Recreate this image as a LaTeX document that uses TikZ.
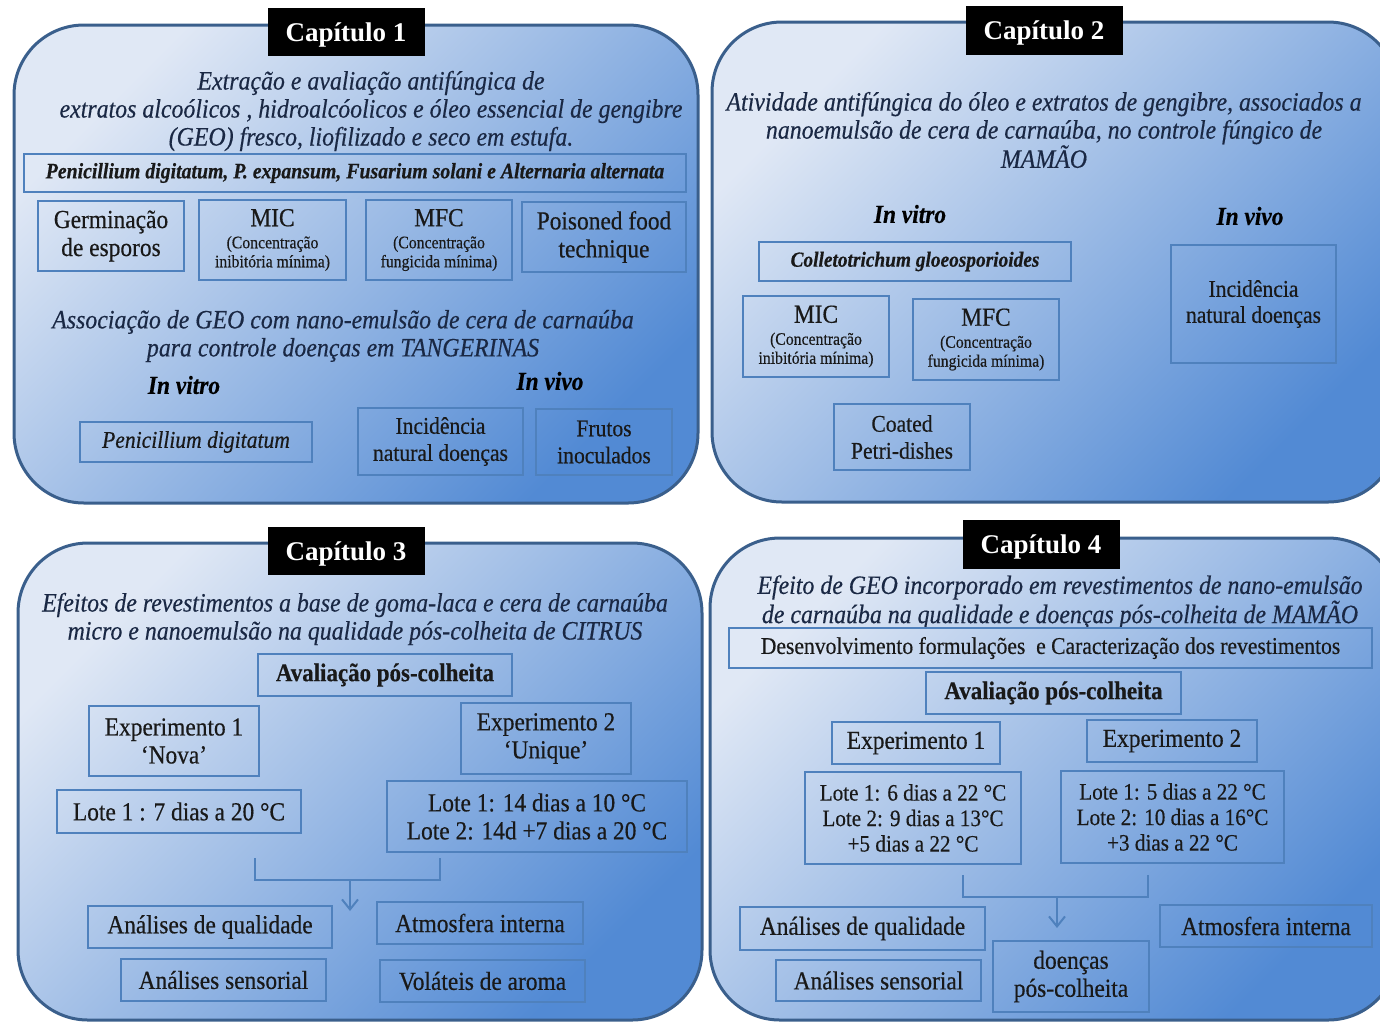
\documentclass[tikz,border=0pt]{standalone}
\usepackage{fontspec}
\setmainfont{Liberation Serif}[FakeStretch=0.9, FakeBold=0.4]
\newfontfamily\capfont{Liberation Serif}
\usetikzlibrary{arrows.meta}
\definecolor{panelline}{RGB}{58,95,140}
\definecolor{paneltop}{RGB}{224,232,245}
\definecolor{panelbot}{RGB}{82,138,212}
\definecolor{boxline}{RGB}{79,129,189}
\definecolor{headtext}{RGB}{26,40,68}
\newcommand\fsz[2]{\fontsize{#1}{#2}\selectfont}
\newcommand\smallfs{\fsz{17.5}{19}}

\begin{document}
\begin{tikzpicture}[x=1pt, y=-1pt,
    panel/.style={draw=panelline, line width=3, rounded corners=70, top color=paneltop, bottom color=panelbot, shading angle=45},
    capbox/.style={fill=black, text=white, font=\capfont\fsz{27}{30}\bfseries, minimum width=157, minimum height=48, inner sep=0, text depth=0pt},
    headtxt/.style={text=headtext, font=\fsz{26.5}{28}\itshape, align=center},
    bx/.style={draw=boxline, line width=1.5, align=center, inner sep=0, text=black!90, font=\fsz{26}{28}},
    vivolabel/.style={font=\fsz{26}{28}\bfseries\itshape, text=black},
    link/.style={draw=boxline, line width=2}]
    \useasboundingbox (0,0) rectangle (1380,1021);
    \clip (0,0) rectangle (1380,1021);

    \path [panel] (14,25) rectangle (698,503);
    \path [panel] (712,22) rectangle (1398,502);
    \path [panel] (18,543) rectangle (702,1020);
    \path [panel] (710,538) rectangle (1398,1020);

    % Capitulo 1
    \node [capbox] (cap1) at (346,32) {Capítulo 1};
    \node [headtxt] (head1) at (371,111) {Extração e avaliação antifúngica de\\extratos alcoólicos , hidroalcóolicos e óleo essencial de gengibre\\(GEO) fresco, liofilizado e seco em estufa.};
    \node [bx, minimum width=662, minimum height=38, font=\fsz{22}{24}\bfseries\itshape] (fungi1) at (355,173) {Penicillium digitatum, P. expansum, Fusarium solani e Alternaria alternata};
    \node [bx, minimum width=146, minimum height=70] (germ) at (111,236) {Germinação\\de esporos};
    \node [bx, minimum width=147, minimum height=80] (mic1) at (272.5,240) {MIC\\[-6pt]\smallfs(Concentração\\[-9pt]\smallfs inibitória mínima)};
    \node [bx, minimum width=146, minimum height=80] (mfc1) at (439,240) {MFC\\[-6pt]\smallfs(Concentração\\[-9pt]\smallfs fungicida mínima)};
    \node [bx, minimum width=164, minimum height=70] (poison) at (604,237) {Poisoned food\\technique};
    \node [headtxt] (head1b) at (343,336) {Associação de GEO com nano-emulsão de cera de carnaúba\\para controle doenças em TANGERINAS};
    \node [vivolabel] (vitro1) at (184,385) {In vitro};
    \node [vivolabel] (vivo1) at (550,381) {In vivo};
    \node [bx, minimum width=232, minimum height=40, font=\fsz{24}{26}\itshape] (pdig) at (196,442) {Penicillium digitatum};
    \node [bx, minimum width=165, minimum height=67, font=\fsz{24}{27}] (inc1) at (440.5,441.5) {Incidência\\natural doenças};
    \node [bx, minimum width=136, minimum height=66, font=\fsz{24}{27}] (frutos) at (604,442) {Frutos\\inoculados};

    % Capitulo 2
    \node [capbox, minimum height=49] (cap2) at (1044,30.5) {Capítulo 2};
    \node [headtxt] (head2) at (1044,130) {Atividade antifúngica do óleo e extratos de gengibre, associados a\\nanoemulsão de cera de carnaúba, no controle fúngico de\\MAMÃO};
    \node [vivolabel] (vitro2) at (910,214) {In vitro};
    \node [vivolabel] (vivo2) at (1250,216) {In vivo};
    \node [bx, minimum width=312, minimum height=39, font=\fsz{21.5}{24}\bfseries\itshape] (colle) at (915,261.5) {Colletotrichum gloeosporioides};
    \node [bx, minimum width=146, minimum height=81] (mic2) at (816,336.5) {MIC\\[-6pt]\smallfs(Concentração\\[-9pt]\smallfs inibitória mínima)};
    \node [bx, minimum width=146, minimum height=81] (mfc2) at (986,339.5) {MFC\\[-6pt]\smallfs(Concentração\\[-9pt]\smallfs fungicida mínima)};
    \node [bx, minimum width=136, minimum height=66, font=\fsz{24}{27}] (coated) at (902,437) {Coated\\Petri-dishes};
    \node [bx, minimum width=165, minimum height=118, font=\fsz{24}{26}] (inc2) at (1253.5,304) {Incidência\\natural doenças};

    % Capitulo 3
    \node [capbox] (cap3) at (346,551) {Capítulo 3};
    \node [headtxt] (head3) at (355,619) {Efeitos de revestimentos a base de goma-laca e cera de carnaúba\\micro e nanoemulsão na qualidade pós-colheita de CITRUS};
    \node [bx, minimum width=254, minimum height=42, font=\fsz{25.5}{28}\bfseries] (aval3) at (385,675) {Avaliação pós-colheita};
    \node [bx, minimum width=170, minimum height=70] (exp31) at (174,741) {Experimento 1\\‘Nova’};
    \node [bx, minimum width=170, minimum height=71] (exp32) at (546,738.5) {Experimento 2\\‘Unique’};
    \node [bx, minimum width=244, minimum height=43] (lote31) at (179,811.5) {Lote 1 : 7 dias a 20 °C};
    \node [bx, minimum width=300, minimum height=71] (lote32) at (537,816.5) {Lote 1: 14 dias a 10 °C\\Lote 2: 14d +7 dias a 20 °C};
    \coordinate (br3l) at (255,858);
    \coordinate (br3r) at (440,858);
    \coordinate (br3m) at (350,880);
    \coordinate (br3t) at (350,911);
    \draw [link] (br3l) |- (br3m) -| (br3r);
    \draw [link, -{Straight Barb[length=10pt, width=16pt]}] (br3m) -- (br3t);
    \node [bx, minimum width=244, minimum height=42] (qual3) at (210,927) {Análises de qualidade};
    \node [bx, minimum width=206, minimum height=42] (atm3) at (480,923) {Atmosfera interna};
    \node [bx, minimum width=205, minimum height=42] (sens3) at (223.5,980) {Análises sensorial};
    \node [bx, minimum width=205, minimum height=42] (vol3) at (482.5,981) {Voláteis de aroma};

    % Capitulo 4
    \node [capbox, minimum height=49] (cap4) at (1041,544.5) {Capítulo 4};
    \node [headtxt] (head4) at (1060,602) {Efeito de GEO incorporado em revestimentos de nano-emulsão\\de carnaúba na qualidade e doenças pós-colheita de MAMÃO};
    \node [bx, minimum width=643, minimum height=40, font=\fsz{24}{26}] (desen) at (1050.5,648) {Desenvolvimento formulações\ \ e Caracterização dos revestimentos};
    \node [bx, minimum width=255, minimum height=42, font=\fsz{25.5}{28}\bfseries] (aval4) at (1053.5,693) {Avaliação pós-colheita};
    \node [bx, minimum width=168, minimum height=42] (exp41) at (916,743) {Experimento 1};
    \node [bx, minimum width=170, minimum height=42] (exp42) at (1172,741) {Experimento 2};
    \node [bx, minimum width=216, minimum height=92, font=\fsz{23.5}{25.5}] (lote41) at (913,818) {Lote 1: 6 dias a 22 °C\\Lote 2: 9 dias a 13°C\\+5 dias a 22 °C};
    \node [bx, minimum width=223, minimum height=92, font=\fsz{23.5}{25.5}] (lote42) at (1172.5,817) {Lote 1: 5 dias a 22 °C\\Lote 2: 10 dias a 16°C\\+3 dias a 22 °C};
    \coordinate (br4l) at (963,875);
    \coordinate (br4r) at (1148,875);
    \coordinate (br4m) at (1057,897);
    \coordinate (br4t) at (1057,928);
    \draw [link] (br4l) |- (br4m) -| (br4r);
    \draw [link, -{Straight Barb[length=10pt, width=16pt]}] (br4m) -- (br4t);
    \node [bx, minimum width=245, minimum height=43] (qual4) at (862.5,928.5) {Análises de qualidade};
    \node [bx, minimum width=212, minimum height=42] (atm4) at (1266,926) {Atmosfera interna};
    \node [bx, minimum width=205, minimum height=41] (sens4) at (878.5,980.5) {Análises sensorial};
    \node [bx, minimum width=156, minimum height=71] (doen) at (1071,976.5) {doenças\\pós-colheita};
\end{tikzpicture}
\end{document}
